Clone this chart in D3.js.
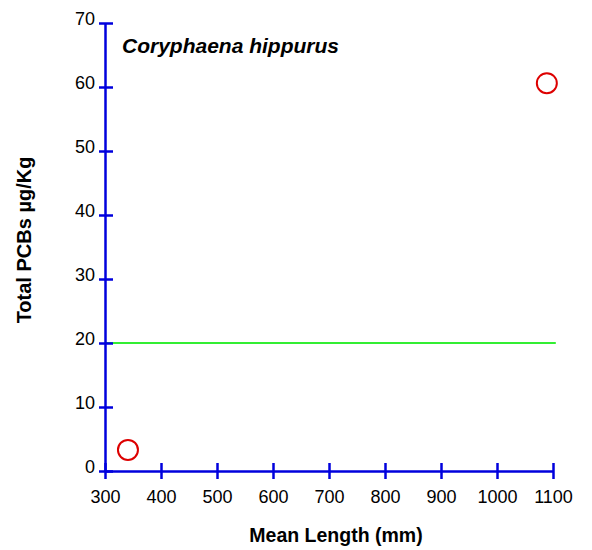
<!DOCTYPE html>
<html>
<head>
<meta charset="utf-8">
<script src="https://cdn.jsdelivr.net/npm/d3@7"></script>
<style>
  body { margin: 0; background: #fff; }
  svg { font-family: "Liberation Sans", Arial, sans-serif; }
</style>
</head>
<body>
<svg id="chart" width="592" height="550"></svg>
<script>
// data
var meanLength = [341, 1089];
var totalPcb = [3.3, 60.6];
var refLevel = [20];
var xTicks = [300, 400, 500, 600, 700, 800, 900, 1000, 1100];
var yTicks = [0, 10, 20, 30, 40, 50, 60, 70];

var blue = '#0000dd', red = '#dd0000', green = '#33ee33';

var svg = d3.select('#chart');

var x = d3.scaleLinear().domain([300, 1100]).range([105, 553]);
var y = d3.scaleLinear().domain([0, 70]).range([471, 23]);

// reference line
svg.selectAll('.ref').data(refLevel).enter().append('line').attr('class', 'ref')
  .attr('x1', x(300)).attr('x2', x(1105)).attr('y1', function(d){ return y(d); }).attr('y2', function(d){ return y(d); })
  .style('stroke', green).style('stroke-width', 2);

// x axis
var xAxis = svg.append('g').attr('transform', 'translate(0,' + y(0) + ')')
  .call(d3.axisBottom(x).tickValues(xTicks).tickSizeOuter(0).tickFormat(d3.format('d')));
xAxis.select('.domain').style('stroke', blue).style('stroke-width', 2.5);
xAxis.selectAll('.tick line').attr('y1', -8).attr('y2', 8).style('stroke', blue).style('stroke-width', 2.5);
xAxis.selectAll('.tick text').attr('y', 19).style('font-size', '18px').style('fill', '#000');

// y axis
var yAxis = svg.append('g').attr('transform', 'translate(' + x(300) + ',0)')
  .call(d3.axisLeft(y).tickValues(yTicks).tickSizeOuter(0));
yAxis.select('.domain').style('stroke', blue).style('stroke-width', 2.5);
yAxis.selectAll('.tick line').attr('x1', -6).attr('x2', 8).style('stroke', blue).style('stroke-width', 2.5);
yAxis.selectAll('.tick text').attr('x', -10).attr('y', -4).style('font-size', '18px').style('fill', '#000');

// points
svg.selectAll('.pt').data(meanLength).enter().append('circle').attr('class', 'pt')
  .attr('cx', function(d){ return x(d); })
  .attr('cy', function(d, i){ return y(totalPcb[i]); })
  .attr('r', 10)
  .style('fill', 'none').style('stroke', red).style('stroke-width', 2);

// labels
svg.append('text').attr('x', 122).attr('y', 53).text('Coryphaena hippurus')
  .style('font-size', '21px').style('font-weight', 'bold').style('font-style', 'italic');

svg.append('text').attr('x', 336).attr('y', 542).attr('text-anchor', 'middle').text('Mean Length (mm)')
  .style('font-size', '19.5px').style('font-weight', 'bold');

svg.append('text').attr('transform', 'translate(31,240) rotate(-90)').attr('text-anchor', 'middle')
  .text('Total PCBs µg/Kg').style('font-size', '20px').style('font-weight', 'bold');
</script>
</body>
</html>
